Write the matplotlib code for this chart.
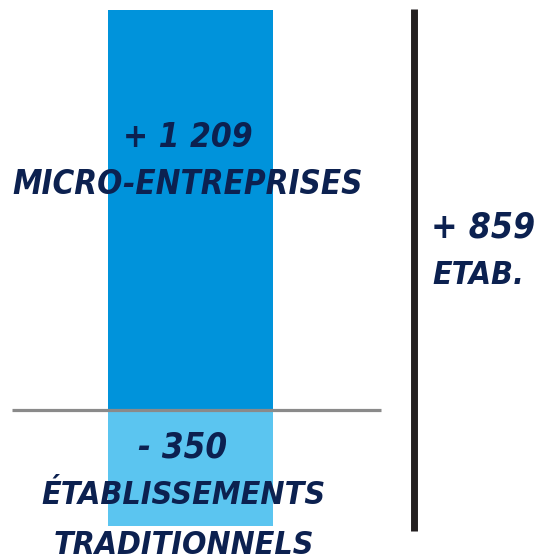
import matplotlib
matplotlib.use("Agg")
import matplotlib.pyplot as plt

# Data
categories = ["MICRO-ENTREPRISES", "ÉTABLISSEMENTS\nTRADITIONNELS"]
values = [1209, -350]
value_labels = ["+ 1 209", "- 350"]
net_value = 859
net_labels = ["+ 859", "ETAB."]

W, H = 537, 558
fig = plt.figure(figsize=(W / 100, H / 100), dpi=100)
ax = fig.add_axes([0, 0, 1, 1])
ax.set_xlim(0, W)
ppu = 400 / values[0]          # pixels per unit
ax.set_ylim(-(H - 410) / ppu, 410 / ppu)
ax.axis("off")

bar_x = 190.5
bar_w = 165
colors = ["#0093db", "#5bc5f0"]
ax.bar([bar_x, bar_x], values, width=bar_w, color=colors, zorder=1)

# baseline
ax.hlines(0, 12, 381, color="#8a8a8a", lw=2.3, zorder=2)

# net vertical line spanning the range
ax.vlines(413.5, min(values) - 5 / ppu, max(values) + 1 / ppu,
          color="#231f20", lw=5.0, zorder=2)

txt = dict(color="#0c2150", fontweight="bold", fontstyle="italic",
           family="DejaVu Sans", fontstretch="condensed",
           ha="center", va="center", zorder=3)

def py(p):
    return (410 - p) / ppu

ax.text(188, py(138), value_labels[0], fontsize=24, **txt)
ax.text(188, py(185), categories[0], fontsize=23.8, **txt)
ax.text(183, py(447), value_labels[1], fontsize=25, **txt)
lines = categories[1].split("\n")
ax.text(184, py(496), lines[0], fontsize=23.1, **txt)
ax.text(184, py(545), lines[1], fontsize=23, **txt)

ax.text(483, py(227), net_labels[0], fontsize=25.5, **txt)
ax.text(478, py(276), net_labels[1], fontsize=23, **txt)

fig.savefig("out.png", dpi=100)
